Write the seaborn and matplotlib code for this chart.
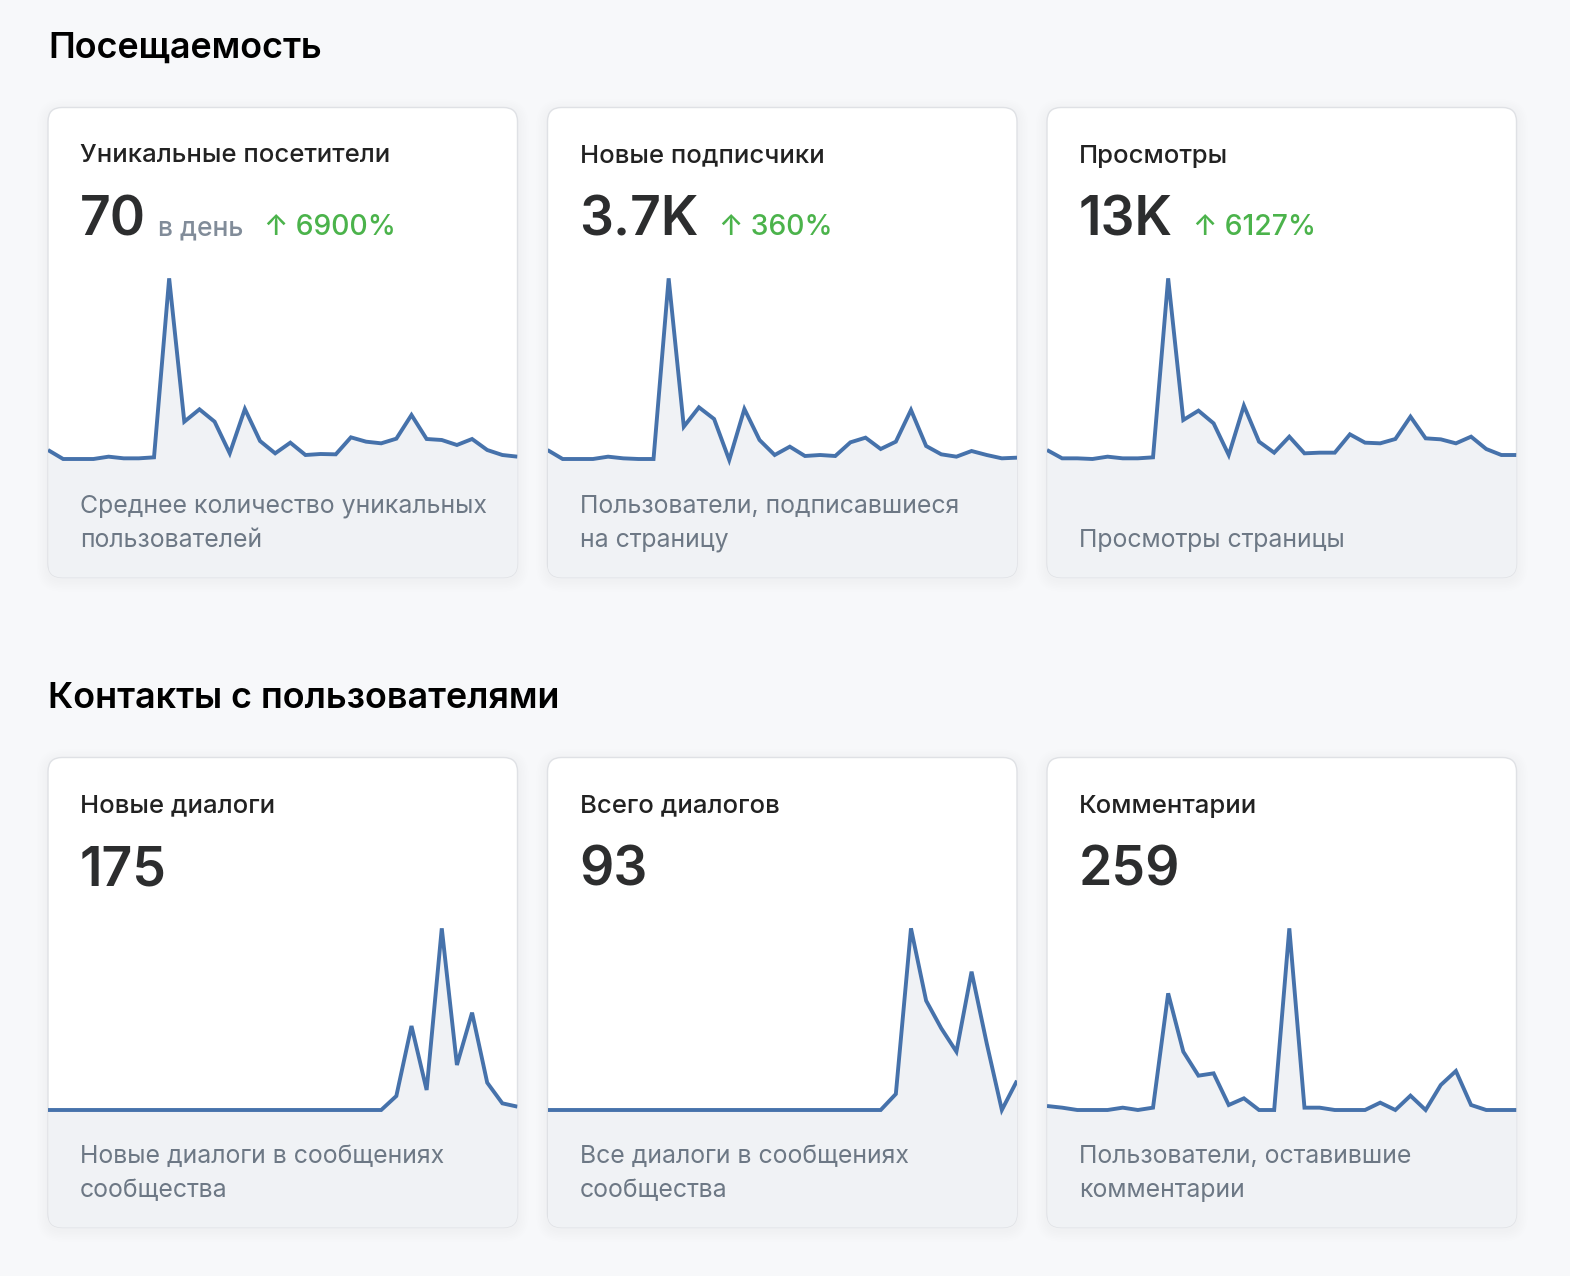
import numpy as np
import pandas as pd
import matplotlib
matplotlib.use("Agg")
import matplotlib.pyplot as plt
from matplotlib.patches import FancyBboxPatch
import seaborn as sns

# ---------------- data ----------------
days = [1, 2, 3, 4, 5, 6, 7, 8, 9, 10, 11, 12, 13, 14, 15, 16,
        17, 18, 19, 20, 21, 22, 23, 24, 25, 26, 27, 28, 29, 30, 31, 32]

unique_visitors = [30, 3, 3, 3, 10, 5, 5, 8, 545, 115, 152, 115, 20, 153, 57, 20,
                   52, 15, 18, 17, 68, 55, 50, 64, 135, 63, 60, 45, 63, 30, 15, 10]
new_subscribers = [30, 3, 3, 3, 10, 5, 3, 3, 545, 100, 158, 123, 0, 153, 60, 15,
                   40, 12, 15, 12, 53, 67, 33, 55, 150, 42, 17, 10, 27, 15, 5, 7]
page_views = [30, 5, 5, 3, 10, 5, 5, 8, 545, 120, 148, 110, 15, 163, 55, 22,
              70, 20, 22, 22, 77, 52, 50, 63, 130, 65, 62, 50, 70, 33, 15, 15]
new_dialogs = [0, 0, 0, 0, 0, 0, 0, 0, 0, 0, 0, 0, 0, 0, 0, 0,
               0, 0, 0, 0, 0, 0, 0, 42, 252, 60, 545, 135, 292, 82, 20, 10]
total_dialogs = [0, 0, 0, 0, 0, 0, 0, 0, 0, 0, 0, 0, 0, 0, 0, 0,
                 0, 0, 0, 0, 0, 0, 0, 48, 545, 328, 245, 175, 415, 200, 0, 88]
comments = [12, 7, 0, 0, 0, 7, 0, 7, 350, 175, 103, 110, 15, 35, 0, 0,
            545, 7, 7, 0, 0, 0, 22, 0, 43, 0, 75, 117, 15, 0, 0, 0]

section_titles = ["Посещаемость", "Контакты с пользователями"]
card_titles = ["Уникальные посетители", "Новые подписчики", "Просмотры",
               "Новые диалоги", "Всего диалогов", "Комментарии"]
card_values = ["70", "3.7K", "13K", "175", "93", "259"]
card_units = ["в день", "", "", "", "", ""]
card_changes = ["6900%", "360%", "6127%", "", "", ""]
card_descriptions = ["Среднее количество уникальных\nпользователей",
                     "Пользователи, подписавшиеся\nна страницу",
                     "Просмотры страницы",
                     "Новые диалоги в сообщениях\nсообщества",
                     "Все диалоги в сообщениях\nсообщества",
                     "Пользователи, оставившие\nкомментарии"]
card_series = [unique_visitors, new_subscribers, page_views,
               new_dialogs, total_dialogs, comments]

# ---------------- style ----------------
sns.set_theme(style="white")
FAM = ["Inter", "DejaVu Sans"]
plt.rcParams["font.family"] = FAM

BG = "#f7f8fa"
LINE = "#4672ab"
FILL = "#f0f2f5"

W, H = 1570, 1276
fig = plt.figure(figsize=(W / 100, H / 100), dpi=100, facecolor=BG)

bg = fig.add_axes([0, 0, 1, 1], zorder=0)
bg.set_xlim(0, W)
bg.set_ylim(H, 0)
bg.axis("off")
bg.set_facecolor(BG)

card_lefts = [48, 547.5, 1047]
card_tops = [107.5, 757.5]
CW, CH = 469.5, 470

fg = fig.add_axes([0, 0, 1, 1], zorder=5)
fg.set_xlim(0, W)
fg.set_ylim(H, 0)
fg.axis("off")
fg.patch.set_alpha(0)

# section titles
for r, title in enumerate(section_titles):
    fg.text(48, 58 + 650 * r, title, fontsize=25.9, fontweight="semibold",
            color="#000000", va="baseline", ha="left", family=FAM)

renderer = fig.canvas.get_renderer()

for i in range(6):
    r, c = divmod(i, 3)
    cx, cy = card_lefts[c], card_tops[r]

    # shadow
    for k in range(1, 8):
        sh = FancyBboxPatch((cx, cy + 3), CW, CH,
                            boxstyle=f"round,pad={k * 1.6},rounding_size={14 + k * 1.6}",
                            facecolor="#000000", edgecolor="none", alpha=0.005)
        bg.add_patch(sh)
    card = FancyBboxPatch((cx, cy), CW, CH, boxstyle="round,pad=0,rounding_size=14",
                          facecolor="white", edgecolor="#dfe1e5", linewidth=1.0)
    bg.add_patch(card)

    # sparkline
    ax_h = CH - 152.5
    ax = fig.add_axes([cx / W, 1 - (cy + CH) / H, CW / W, ax_h / H], zorder=2)
    ax.patch.set_alpha(0)
    df = pd.DataFrame({"day": days, "value": card_series[i]})
    sns.lineplot(data=df, x="day", y="value", ax=ax, color=LINE, linewidth=2.8,
                 solid_joinstyle="miter", solid_capstyle="butt")
    ylo = -352.5
    poly = ax.fill_between(df["day"], df["value"], ylo, color=FILL, linewidth=0, zorder=0)
    ax.set_xlim(days[0], days[-1])
    ax.set_ylim(ylo, 600)
    ax.axis("off")
    poly.set_clip_path(card)
    for ln in ax.lines:
        ln.set_clip_path(card)

    # card text
    fg.text(cx + 32, cy + 55, card_titles[i], fontsize=18.5, fontweight="medium",
            color="#222222", va="baseline", ha="left", family=FAM)
    t = fg.text(cx + 32, cy + 127.5, card_values[i], fontsize=38.5, fontweight="semibold",
                color="#2c2d2e", va="baseline", ha="left", family=FAM)
    x_end = t.get_window_extent(renderer).x1
    if card_units[i]:
        u = fg.text(x_end + 12, cy + 127.5, card_units[i], fontsize=19, fontweight="medium",
                    color="#818c99", va="baseline", ha="left", family=FAM)
        x_end = u.get_window_extent(renderer).x1
    if card_changes[i]:
        fg.text(x_end + 20, cy + 127.5, "↑ " + card_changes[i], fontsize=20.4,
                fontweight="medium", color="#4bb34b", va="baseline", ha="left", family=FAM)

    lines = card_descriptions[i].split("\n")
    start = 2 - len(lines)
    for j, ln_txt in enumerate(lines):
        fg.text(cx + 32, cy + 405.5 + 34 * (start + j), ln_txt, fontsize=17.9,
                color="#6d7885", va="baseline", ha="left", family=FAM)

fig.savefig("out.png", dpi=100, facecolor=BG)
